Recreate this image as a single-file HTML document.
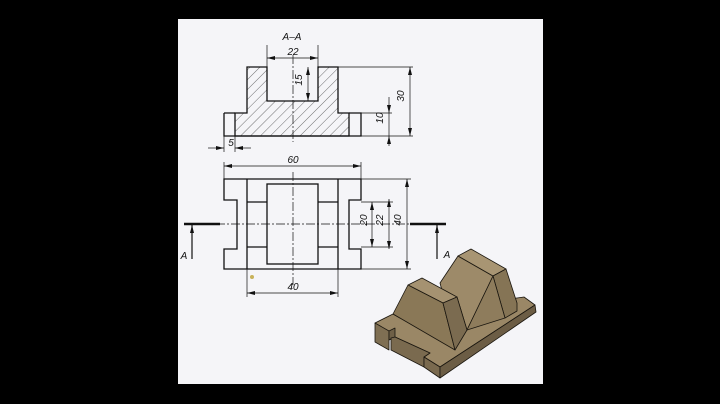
<!DOCTYPE html>
<html><head><meta charset="utf-8"><style>
html,body{margin:0;padding:0;background:#000;width:720px;height:404px;overflow:hidden}
svg{display:block}
text{font-family:"Liberation Sans",sans-serif;font-style:italic;font-size:10px;fill:#111}
</style></head><body>
<svg width="720" height="404" viewBox="0 0 720 404" xmlns="http://www.w3.org/2000/svg">
<defs>
<marker id="ar" markerWidth="8" markerHeight="6" refX="8" refY="3" orient="auto-start-reverse" markerUnits="userSpaceOnUse"><path d="M0,1 L8,3 L0,5 z" fill="#111"/></marker>
<pattern id="h" width="7" height="7" patternUnits="userSpaceOnUse" patternTransform="rotate(45)"><line x1="0" y1="0" x2="0" y2="7" stroke="#333" stroke-width="0.7"/></pattern>
</defs>
<rect x="178" y="19" width="365" height="365" fill="#f5f5f8"/>
<g stroke="#111" fill="none" stroke-width="1.3">
<path d="M235,113 L247,113 L247,67 L267,67 L267,101 L318,101 L318,67 L338,67 L338,113 L349,113 L349,136 L235,136 Z" fill="url(#h)"/>
<path d="M224,113 L235,113 M224,113 L224,136 L361,136 L361,113 L349,113"/>
</g>
<g stroke="#111" fill="none" stroke-width="0.7">
<line x1="293" y1="55" x2="293" y2="142" stroke-dasharray="9,2,2,2"/>
<line x1="267" y1="45" x2="267" y2="67"/><line x1="318" y1="45" x2="318" y2="67"/>
<line x1="267" y1="58" x2="318" y2="58" marker-start="url(#ar)" marker-end="url(#ar)"/>
<line x1="308" y1="67" x2="308" y2="101" marker-start="url(#ar)" marker-end="url(#ar)"/>
<line x1="338" y1="67" x2="413" y2="67"/><line x1="361" y1="136" x2="413" y2="136"/>
<line x1="361" y1="113" x2="392" y2="113"/>
<line x1="410" y1="67" x2="410" y2="136" marker-start="url(#ar)" marker-end="url(#ar)"/>
<line x1="389" y1="97" x2="389" y2="113" marker-end="url(#ar)"/>
<line x1="389" y1="146" x2="389" y2="136" marker-end="url(#ar)"/>
<line x1="389" y1="113" x2="389" y2="136"/>
<line x1="224" y1="136" x2="224" y2="152"/><line x1="235" y1="136" x2="235" y2="152"/>
<line x1="208" y1="148" x2="224" y2="148" marker-end="url(#ar)"/>
<line x1="251" y1="148" x2="235" y2="148" marker-end="url(#ar)"/>
</g>
<text x="292" y="40" text-anchor="middle" font-size="14">A–A</text>
<text x="293" y="55" text-anchor="middle">22</text>
<text x="306" y="84" text-anchor="middle" transform="rotate(-90 302 84)">15</text>
<text x="408" y="100" text-anchor="middle" transform="rotate(-90 404 100)">30</text>
<text x="387" y="122" text-anchor="middle" transform="rotate(-90 383 122)">10</text>
<text x="231" y="146" text-anchor="middle">5</text>
<g stroke="#111" fill="none" stroke-width="1.3">
<path d="M224,179 L361,179 L361,200 L349,200 L349,249 L361,249 L361,269 L224,269 L224,249 L237,249 L237,200 L224,200 Z"/>
<line x1="247" y1="179" x2="247" y2="269"/><line x1="338" y1="179" x2="338" y2="269"/>
<rect x="267" y="184" width="51" height="80"/>
<line x1="247" y1="202" x2="267" y2="202"/><line x1="247" y1="247" x2="267" y2="247"/>
<line x1="318" y1="202" x2="338" y2="202"/><line x1="318" y1="247" x2="338" y2="247"/>
<line x1="184" y1="224" x2="220" y2="224" stroke-width="2.5"/>
<line x1="410" y1="224" x2="446" y2="224" stroke-width="2.5"/>
</g>
<g stroke="#111" fill="none" stroke-width="0.7">
<line x1="186" y1="224" x2="418" y2="224" stroke-dasharray="9,2,2,2"/>
<line x1="293" y1="172" x2="293" y2="285" stroke-dasharray="9,2,2,2"/>
<line x1="224" y1="162" x2="224" y2="179"/><line x1="361" y1="162" x2="361" y2="179"/>
<line x1="224" y1="166" x2="361" y2="166" marker-start="url(#ar)" marker-end="url(#ar)"/>
<line x1="247" y1="269" x2="247" y2="297"/><line x1="338" y1="269" x2="338" y2="297"/>
<line x1="247" y1="293" x2="338" y2="293" marker-start="url(#ar)" marker-end="url(#ar)"/>
<line x1="361" y1="202" x2="393" y2="202"/><line x1="361" y1="247" x2="393" y2="247"/>
<line x1="361" y1="179" x2="411" y2="179"/><line x1="361" y1="269" x2="411" y2="269"/>
<line x1="372" y1="202" x2="372" y2="247" marker-start="url(#ar)" marker-end="url(#ar)"/>
<line x1="389" y1="199" x2="389" y2="249" marker-start="url(#ar)" marker-end="url(#ar)"/>
<line x1="407" y1="179" x2="407" y2="269" marker-start="url(#ar)" marker-end="url(#ar)"/>
<line x1="192" y1="259" x2="192" y2="225" stroke-width="1.2" marker-end="url(#ar)"/>
<line x1="437" y1="259" x2="437" y2="225" stroke-width="1.2" marker-end="url(#ar)"/>
</g>
<text x="293" y="163" text-anchor="middle">60</text>
<text x="293" y="290" text-anchor="middle">40</text>
<text x="371" y="224" text-anchor="middle" transform="rotate(-90 367 224)">20</text>
<text x="387" y="224" text-anchor="middle" transform="rotate(-90 383 224)">22</text>
<text x="405" y="224" text-anchor="middle" transform="rotate(-90 401 224)">40</text>
<text x="184" y="259" text-anchor="middle" font-size="12">A</text>
<text x="447" y="258" text-anchor="middle" font-size="12">A</text>
<!-- Isometric -->
<g stroke="#1a160f" stroke-width="0.8" stroke-linejoin="round">
<!-- base slab top -->
<path d="M375,323 L393,314 L400,318 L407,314 L524,297 L535,305 L440,367 L424,357 L430,353 L395,337 L389,340 Z" fill="#9a8766"/>
<!-- left block front faces -->
<path d="M375,323 L389,331 L389,350 L375,342 Z" fill="#7f6f53"/>
<path d="M389,331 L395,328 L395,337 L389,340 Z" fill="#6f6047"/>
<path d="M395,337 L430,353 L424,357 L424,367 L391,350 L391,338 Z" fill="#7a6a4f"/>
<!-- slab front -->
<path d="M424,357 L440,367 L440,378 L424,367 Z" fill="#7a6a4f"/>
<path d="M440,367 L535,305 L536,312 L440,378 Z" fill="#6c5d45"/>
<!-- right ridge -->
<path d="M440,283 L458,256 L493,276 L467,330 L455,340 Z" fill="#9d8a69"/>
<path d="M458,256 L471,249 L506,269 L493,276 Z" fill="#a89573"/>
<path d="M493,276 L506,269 L517,303 L517,311 L505,318 Z" fill="#857455"/>
<path d="M467,330 L493,276 L505,318 Z" fill="#8e7c5c"/>
<!-- groove floor -->
<path d="M443,303 L457,297 L467,330 L455,340 Z" fill="#a18e6d"/>
<!-- left ridge -->
<path d="M408,285 L422,278 L457,297 L443,303 Z" fill="#a59271"/>
<path d="M393,314 L408,285 L443,303 L455,350 Z" fill="#8a7857"/>
<path d="M443,303 L457,297 L467,330 L455,350 Z" fill="#7b6b50"/>
</g>
<circle cx="252" cy="277" r="2" fill="#c8b25a"/>
</svg>
</body></html>
